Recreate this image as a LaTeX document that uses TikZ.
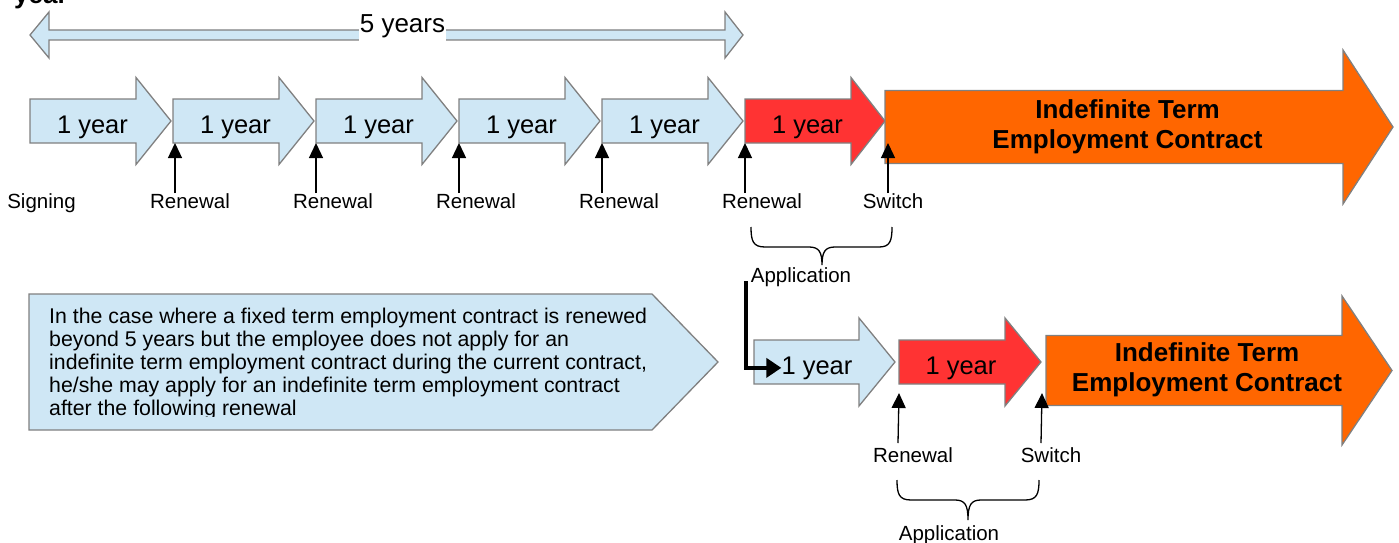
\documentclass[tikz,border=0pt]{standalone}
\usepackage{fontspec}
\setmainfont{Liberation Sans}
\usetikzlibrary{arrows.meta}
\definecolor{paleblue}{RGB}{207,231,245}
\definecolor{redfill}{RGB}{255,51,51}
\definecolor{orangefill}{RGB}{255,102,0}
\definecolor{edgegray}{RGB}{128,128,128}
\newcommand{\blockarr}[7]{\draw[#1] (#2,#5-#6) -- (#3,#5-#6) -- (#3,#5-#7) -- (#4,#5) -- (#3,#5+#7) -- (#3,#5+#6) -- (#2,#5+#6) -- cycle;}
\begin{document}
\begin{tikzpicture}[x=1pt,y=-1pt,
  shapeedge/.style={draw=edgegray,line width=1.3pt,line join=miter},
  bluearrow/.style={shapeedge,fill=paleblue},
  redarrow/.style={shapeedge,fill=redfill},
  orangearrow/.style={shapeedge,fill=orangefill},
  yeartext/.style={font=\fontsize{25.5}{30}\selectfont,inner sep=0pt,anchor=base},
  bigtext/.style={font=\fontsize{26}{30}\selectfont\bfseries,align=center,inner sep=0pt},
  labeltext/.style={font=\fontsize{20.5}{24}\selectfont,inner sep=0pt,anchor=base},
  uparrow/.style={line width=1.3pt,-{Triangle[width=14pt,length=15pt]}},
  bracepath/.style={line width=1.3pt},
  bentarrow/.style={line width=4.5pt,-{Triangle[width=19pt,length=15pt]}}
]
\useasboundingbox (0,0) rectangle (1399,543);
\clip (0,0) rectangle (1399,543);

% clipped title remnant
\node[font=\fontsize{26}{30}\selectfont\bfseries,inner sep=0pt,anchor=base west] (title) at (14,4) {year};

% 5 years double arrow
\draw[bluearrow] (30,35) -- (49,12) -- (49,30) -- (725,30) -- (725,12) -- (743,35) -- (725,58) -- (725,40) -- (49,40) -- (49,58) -- cycle;
\node[font=\fontsize{26}{30}\selectfont,fill=white,inner xsep=0.5pt,inner ysep=0pt,text height=19pt,text depth=9pt,anchor=base] (five) at (402.5,33) {5 years};

% top row arrows
\blockarr{bluearrow}{30}{136}{171}{121}{22}{43.5}
\blockarr{bluearrow}{173}{279}{314}{121}{22}{43.5}
\blockarr{bluearrow}{316}{422}{457}{121}{22}{43.5}
\blockarr{bluearrow}{459}{565}{600}{121}{22}{43.5}
\blockarr{bluearrow}{602}{708}{743}{121}{22}{43.5}
\blockarr{redarrow}{745}{851}{885}{121}{22}{43.5}
\blockarr{orangearrow}{885}{1343}{1393}{127}{36.5}{77}

\node[yeartext] (ya) at (92.5,133) {1 year};
\node[yeartext] (yb) at (235.5,133) {1 year};
\node[yeartext] (yc) at (378.5,133) {1 year};
\node[yeartext] (yd) at (521.5,133) {1 year};
\node[yeartext] (ye) at (664.5,133) {1 year};
\node[yeartext] (yf) at (807.5,133) {1 year};
\node[bigtext] (indA) at (1127.5,126.3) {Indefinite Term\\Employment Contract};

% top labels
\node[labeltext] (sign) at (41.5,208) {Signing};
\node[labeltext] (renA) at (190,208) {Renewal};
\node[labeltext] (renB) at (333,208) {Renewal};
\node[labeltext] (renC) at (476,208) {Renewal};
\node[labeltext] (renD) at (619,208) {Renewal};
\node[labeltext] (renE) at (762,208) {Renewal};
\node[labeltext] (swA) at (893,208) {Switch};

% top small arrows
\foreach \xx/\nm in {175/a,316/b,459/c,602/d,745/e,888/f}{
  \coordinate (tt\nm) at (\xx,143);
  \coordinate (tb\nm) at (\xx,193);
  \draw[uparrow] (tb\nm) -- (tt\nm);
}

% upper brace
\draw[bracepath] (751,227) .. controls (751,241) and (753,247) .. (765,247) -- (809,247) .. controls (819,247) and (822,252) .. (822,265) .. controls (822,252) and (825,247) .. (835,247) -- (879,247) .. controls (890,247) and (892,241) .. (892,227);
\node[labeltext] (appA) at (801,282) {Application};

% callout
\draw[bluearrow] (29,294) -- (652,294) -- (718,362) -- (652,430) -- (29,430) -- cycle;
\begin{scope}
\clip (29,294) rectangle (652,416.5);
\node[font=\fontsize{21.3}{23}\selectfont,align=left,inner sep=0pt,anchor=north west] (note) at (49,307.5) {In the case where a fixed term employment contract is renewed\\beyond 5 years but the employee does not apply for an\\indefinite term employment contract during the current contract,\\he/she may apply for an indefinite term employment contract\\after the following renewal};
\end{scope}

% lower row arrows
\blockarr{bluearrow}{754}{859}{895}{362}{22}{44}
\blockarr{redarrow}{899}{1005}{1041}{362}{22}{44}
\blockarr{orangearrow}{1046}{1342}{1392}{370.5}{35}{74.5}
\node[yeartext] (yg) at (817,374) {1 year};
\node[yeartext] (yh) at (961,374) {1 year};
\node[bigtext] (indB) at (1207,369.3) {Indefinite Term\\Employment Contract};

% bent arrow
\coordinate (bendstart) at (746,281);
\draw[bentarrow] (bendstart) |- (yg.west);

% lower small arrows and labels
\coordinate (lta) at (899,393);
\coordinate (lba) at (898,443);
\coordinate (ltb) at (1042,393);
\coordinate (lbb) at (1041,443);
\draw[uparrow] (lba) -- (lta);
\draw[uparrow] (lbb) -- (ltb);
\node[labeltext] (renF) at (913,462) {Renewal};
\node[labeltext] (swB) at (1051,462) {Switch};

% lower brace
\draw[bracepath] (897,480) .. controls (897,494) and (899,500) .. (911,500) -- (955,500) .. controls (965,500) and (968,505) .. (968,520) .. controls (968,505) and (971,500) .. (981,500) -- (1025,500) .. controls (1037,500) and (1039,494) .. (1039,480);
\node[labeltext] (appB) at (949,540) {Application};
\end{tikzpicture}
\end{document}
